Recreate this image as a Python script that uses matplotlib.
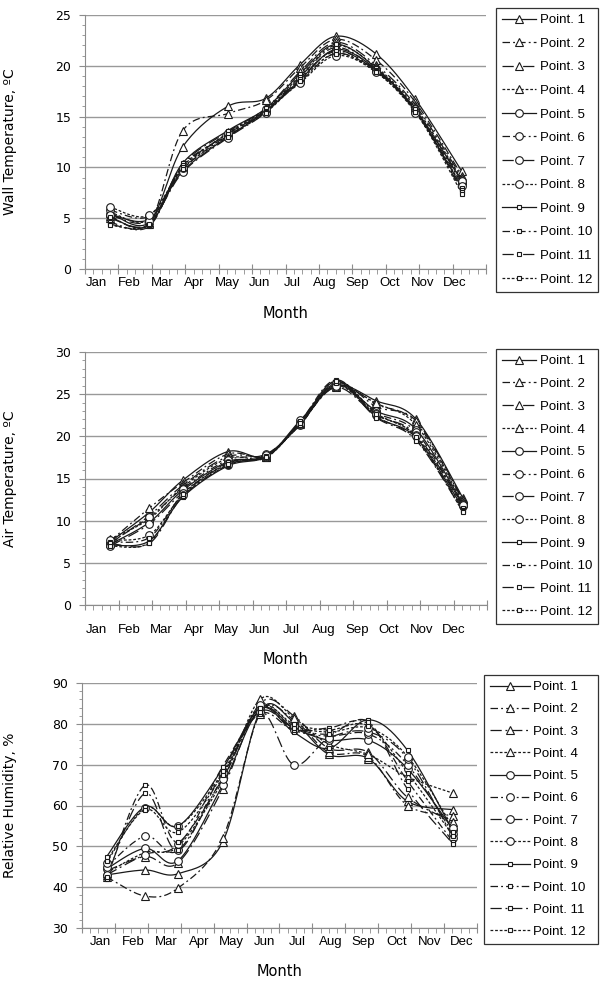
import numpy as np
import matplotlib
matplotlib.use("Agg")
import matplotlib.pyplot as plt
from matplotlib.ticker import MultipleLocator, FixedLocator

# ── Data ───────────────────────────────────────────────────────────────

MONTHS = ["Jan", "Feb", "Mar", "Apr", "May", "Jun",
          "Jul", "Aug", "Sep", "Oct", "Nov", "Dec"]
SERIES = [f"Point. {i}" for i in range(1, 13)]

# sampling dates, in months since 1 Jan
SAMPLE_X = [0.75, 1.92, 2.92, 4.27, 5.41, 6.43, 7.50, 8.70, 9.89, 11.28]

WALL_T = [
    [5.5, 4.6, 12.0, 16.0, 16.8, 20.1, 22.9, 21.2, 16.7, 9.6],
    [5.2, 4.5, 13.6, 15.3, 16.6, 19.8, 22.6, 20.6, 16.4, 9.2],
    [5.0, 4.4, 10.3, 13.5, 15.8, 19.4, 22.3, 20.1, 16.1, 9.0],
    [5.6, 4.8, 10.1, 13.3, 15.7, 19.0, 22.0, 19.9, 15.9, 8.8],
    [5.4, 4.9, 9.6, 13.0, 15.5, 18.6, 21.6, 19.7, 15.7, 8.6],
    [5.8, 5.2, 9.8, 13.2, 15.6, 18.4, 21.2, 19.5, 15.5, 8.4],
    [5.3, 4.7, 9.5, 12.9, 15.4, 18.8, 21.4, 19.6, 15.6, 8.7],
    [6.1, 5.3, 9.9, 13.4, 15.7, 18.3, 21.0, 19.4, 15.4, 8.2],
    [5.1, 4.3, 10.4, 13.6, 15.8, 19.2, 22.1, 19.8, 15.6, 8.0],
    [4.6, 4.2, 10.2, 13.1, 15.6, 18.9, 21.8, 19.6, 15.5, 7.8],
    [4.4, 4.3, 10.0, 13.3, 15.5, 18.7, 21.5, 19.5, 15.7, 7.6],
    [4.3, 4.4, 9.8, 13.0, 15.4, 18.5, 21.2, 19.4, 15.5, 7.4],
]

AIR_T = [
    [7.5, 11.0, 14.8, 18.2, 17.6, 21.8, 26.0, 24.2, 22.0, 12.7],
    [7.6, 11.5, 14.5, 17.9, 17.7, 21.6, 26.2, 23.8, 21.6, 12.4],
    [7.3, 10.6, 14.2, 17.6, 17.8, 21.5, 26.4, 23.5, 21.8, 12.5],
    [7.8, 10.2, 14.0, 17.4, 17.5, 21.7, 25.9, 23.9, 21.3, 12.2],
    [7.2, 9.8, 13.6, 17.0, 17.6, 21.9, 26.1, 23.0, 20.8, 12.0],
    [7.4, 10.4, 13.8, 17.2, 17.9, 21.4, 26.3, 22.8, 20.5, 11.8],
    [7.0, 9.6, 13.3, 16.8, 17.7, 21.6, 25.8, 22.5, 20.2, 11.7],
    [7.7, 8.3, 13.0, 16.6, 17.8, 21.5, 26.0, 22.6, 20.0, 11.9],
    [7.1, 7.6, 12.8, 16.5, 17.6, 21.7, 26.5, 22.3, 19.8, 11.5],
    [7.5, 8.0, 13.1, 16.9, 17.5, 21.8, 26.7, 22.4, 19.6, 11.3],
    [7.3, 7.3, 12.9, 16.6, 17.7, 21.4, 26.3, 22.2, 19.5, 11.1],
    [7.0, 7.4, 13.2, 16.7, 17.6, 21.6, 26.6, 22.7, 19.9, 11.0],
]

RH = [
    [43.0, 44.2, 43.3, 51.0, 83.0, 80.5, 72.5, 71.5, 61.0, 59.0],
    [42.5, 37.8, 39.8, 52.0, 82.5, 81.0, 73.0, 72.0, 60.0, 57.5],
    [44.0, 47.5, 46.0, 64.0, 85.0, 82.0, 74.0, 73.0, 62.0, 56.0],
    [43.5, 48.5, 50.0, 66.0, 86.0, 81.5, 75.0, 72.5, 67.0, 63.0],
    [44.5, 49.5, 46.5, 65.0, 83.5, 79.0, 76.0, 76.0, 69.0, 54.0],
    [45.0, 52.5, 49.0, 67.0, 84.0, 78.5, 77.0, 77.5, 70.0, 53.0],
    [43.0, 48.0, 50.5, 66.5, 83.0, 70.0, 76.5, 78.0, 71.5, 52.0],
    [46.0, 59.5, 55.0, 68.0, 84.5, 79.5, 78.0, 79.0, 72.0, 54.5],
    [47.5, 59.7, 55.0, 69.0, 83.8, 78.0, 74.0, 81.0, 73.5, 53.5],
    [42.0, 65.0, 51.0, 69.5, 82.5, 78.5, 79.0, 80.0, 66.0, 51.0],
    [42.5, 63.0, 49.0, 68.5, 83.0, 79.0, 77.5, 80.5, 64.0, 50.5],
    [46.5, 59.0, 53.5, 67.5, 84.0, 80.0, 78.5, 79.5, 68.0, 52.5],
]

# ── Style ──────────────────────────────────────────────────────────────

W, H = 600, 981
NARROW = ["Liberation Sans", "DejaVu Sans"]
LINESTYLES = ["-", (0, (6, 2.5, 1.5, 2.5)), (0, (9, 3, 1.5, 3)), (0, (2.2, 1.5))]
MARKERS = [("^", 5.5), ("o", 5.5), ("s", 3.5)]
AX_GRAY = "#8c8c8c"
INK = "#1a1a1a"


def smooth(xs, ys, n=20):
    """Excel-like smoothed line (Bezier through points, tension 1/6)."""
    p = np.column_stack([xs, ys]).astype(float)
    ext = np.vstack([p[0], p, p[-1]])
    t = np.linspace(0, 1, n)[:, None]
    out = []
    for i in range(1, len(ext) - 2):
        p0, p1, p2, p3 = ext[i - 1], ext[i], ext[i + 1], ext[i + 2]
        c1 = p1 + (p2 - p0) / 6
        c2 = p2 - (p3 - p1) / 6
        seg = ((1 - t) ** 3) * p1 + 3 * ((1 - t) ** 2) * t * c1 \
            + 3 * (1 - t) * t ** 2 * c2 + t ** 3 * p2
        out.append(seg if i == 1 else seg[1:])
    seg = np.vstack(out)
    return seg[:, 0], seg[:, 1]


def px_axes(fig, left, right, top, bottom):
    return fig.add_axes([left / W, 1 - bottom / H, (right - left) / W, (bottom - top) / H])


def panel(fig, box, data, ylim, ystep, yminor, ylabel, lab_x, lab_pad, month_off,
          leg_box, leg_spacing, hlen):
    ax = px_axes(fig, *box)
    handles = []
    for k, (name, vals) in enumerate(zip(SERIES, data)):
        ls = LINESTYLES[k % 4]
        mk, ms = MARKERS[k // 4]
        sx, sy = smooth(SAMPLE_X, vals)
        ax.plot(sx, sy, color=INK, lw=0.9, ls=ls, zorder=2)
        ax.plot(SAMPLE_X, vals, ls="none", marker=mk, ms=ms, mfc="white",
                mec=INK, mew=0.8, zorder=3)
        h, = ax.plot([], [], color=INK, lw=0.9, ls=ls, marker=mk, ms=ms,
                     mfc="white", mec=INK, mew=0.8)
        handles.append(h)

    ax.set_xlim(0, 12)
    ax.set_ylim(*ylim)
    ax.xaxis.set_major_locator(FixedLocator(range(13)))
    ax.xaxis.set_minor_locator(MultipleLocator(0.25))
    ax.yaxis.set_major_locator(MultipleLocator(ystep))
    ax.yaxis.set_minor_locator(MultipleLocator(yminor))
    ax.tick_params(axis="x", which="major", direction="inout", length=7, color=AX_GRAY,
                   labelbottom=False)
    ax.tick_params(axis="x", which="minor", direction="out", length=3.5, color=AX_GRAY)
    ax.tick_params(axis="y", which="major", direction="out", length=4, color=AX_GRAY,
                   labelsize=9, pad=6)
    ax.tick_params(axis="y", which="minor", direction="out", length=2.5, color=AX_GRAY)
    for side in ("top", "right"):
        ax.spines[side].set_visible(False)
    for side in ("left", "bottom"):
        ax.spines[side].set_color(AX_GRAY)
    ax.yaxis.grid(True, color="#999999", lw=1)
    ax.set_axisbelow(True)

    for i, m in enumerate(MONTHS):
        ax.text(lab_x(i), -lab_pad / (box[3] - box[2]), m, transform=ax.get_xaxis_transform(),
                ha="center", va="center", fontsize=9.5, family=NARROW)

    ax.set_ylabel(ylabel, fontsize=10)
    ax.yaxis.set_label_coords(-(box[0] - 17) / (box[1] - box[0]), 0.5)
    ax.set_xlabel("Month", fontsize=10.5)
    ax.xaxis.set_label_coords(0.5, -month_off / (box[3] - box[2]))
    ax.xaxis.label.set_va("center")

    lx0, lx1, ly0, ly1 = leg_box
    leg = ax.legend(handles, SERIES, loc="upper left",
                    bbox_to_anchor=(lx0 / W, 1 - ly1 / H, (lx1 - lx0) / W, (ly1 - ly0) / H),
                    bbox_transform=fig.transFigure, mode="expand",
                    frameon=True, fancybox=False, edgecolor="black", borderaxespad=0,
                    prop={"family": NARROW, "size": 9.5}, handlelength=hlen,
                    handletextpad=0.3, labelspacing=leg_spacing, borderpad=0.45)
    leg.get_frame().set_linewidth(0.9)
    return ax


fig = plt.figure(figsize=(W / 100, H / 100), dpi=100)

panel(fig, (85, 486, 15, 269), WALL_T, (0, 25), 5, 1, "Wall Temperature, ºC",
      lambda i: 0.35 + 0.975 * i, 14, 44, (496, 598, 8, 290), 0.86, 2.6)
panel(fig, (85, 487, 352, 605), AIR_T, (0, 30), 5, 1, "Air Temperature, ºC",
      lambda i: 0.35 + 0.97 * i, 25, 55, (496, 598, 349, 628), 0.8, 2.6)
panel(fig, (82, 477, 683, 928), RH, (30, 90), 10, 2, "Relative Humidity, %",
      lambda i: 0.55 + i, 14, 44, (484, 598, 675, 946), 0.76, 3.0)

fig.savefig("out.png", dpi=100)
